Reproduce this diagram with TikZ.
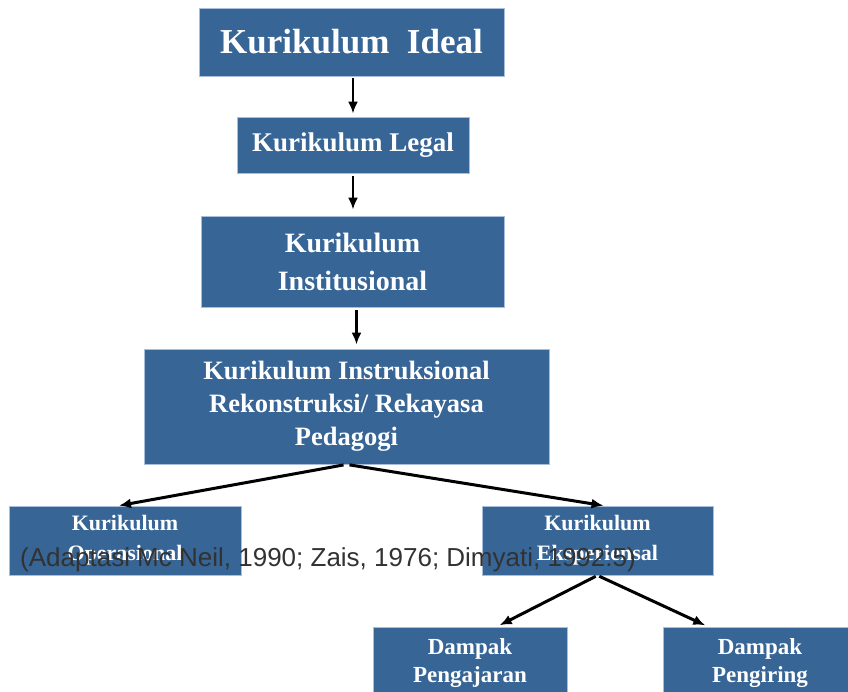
\documentclass[tikz,border=0pt]{standalone}
\usepackage{fontspec}
\setmainfont{Liberation Serif}
\newfontfamily\citefont{Liberation Sans}
\usetikzlibrary{arrows.meta}
\definecolor{boxblue}{RGB}{54,101,150}
\definecolor{boxline}{RGB}{170,190,220}
\definecolor{citegray}{RGB}{50,50,50}

\begin{document}
\begin{tikzpicture}[x=1pt, y=-1pt,
  box/.style={draw=boxline, line width=0.8pt, fill=boxblue, text=white, align=center, inner sep=0pt},
  link/.style={-{Latex[length=12pt,width=10pt]}, line width=3pt, black}]
  \useasboundingbox (0,0) rectangle (848,691);
  \clip (0,0) rectangle (848,691);

  \node[box, minimum width=305pt, minimum height=68pt, font=\fontsize{35}{40}\selectfont\bfseries] (K1) at (351.5,42) {Kurikulum\ \ Ideal};
  \node[box, minimum width=232pt, minimum height=56pt, font=\fontsize{27}{32}\selectfont\bfseries] (K2) at (353,145) {Kurikulum Legal};
  \node[box, minimum width=303pt, minimum height=91pt, font=\fontsize{28}{38}\selectfont\bfseries] (K3) at (352.5,261.5) {Kurikulum\\Institusional};
  \node[box, minimum width=405pt, minimum height=115pt, font=\fontsize{26.5}{33}\selectfont\bfseries] (K4) at (346.5,406.5) {Kurikulum Instruksional\\Rekonstruksi/ Rekayasa\\Pedagogi};
  \node[box, minimum width=232pt, minimum height=69pt, font=\fontsize{22}{30}\selectfont\bfseries] (K5) at (125,540.5) {Kurikulum\\Operasional};
  \node[box, minimum width=231pt, minimum height=69pt, font=\fontsize{22}{30}\selectfont\bfseries] (K6) at (597.5,540.5) {Kurikulum\\Eksperiensal};
  \node[box, minimum width=194pt, minimum height=72pt, font=\fontsize{23}{28}\selectfont\bfseries] (K7) at (470,663) {Dampak\\Pengajaran};
  \node[box, minimum width=194pt, minimum height=72pt, font=\fontsize{23}{28}\selectfont\bfseries] (K8) at (760,663) {Dampak\\Pengiring};

  \node[anchor=base west, inner sep=0pt, text=citegray, font=\citefont\fontsize{26}{30}\selectfont] (C1) at (20,566) {(Adaptasi Mc Neil, 1990; Zais, 1976; Dimyati, 1992:5)};

  \draw[link, line width=2.5pt, shorten <=2pt, shorten >=3pt] (K1.south -| K2) -- (K2.north);
  \draw[link, line width=2.5pt, shorten <=3pt, shorten >=6pt] (K2.south) -- (K2.south |- K3.north);
  \draw[link, line width=2.5pt, shorten <=3pt, shorten >=4pt] ([xshift=4pt]K3.south) -- ([xshift=4pt]K3.south |- K4.north);
  \draw[link, shorten <=3pt] (K4.south) -- ([xshift=-6pt]K5.north);
  \draw[link, shorten <=3pt] (K4.south) -- ([xshift=6pt]K6.north);
  \draw[link, shorten <=2pt, shorten >=3pt] (K6.south) -- ([xshift=27pt]K7.north);
  \draw[link, shorten <=2pt, shorten >=3pt] (K6.south) -- ([xshift=-52pt]K8.north);
\end{tikzpicture}
\end{document}
